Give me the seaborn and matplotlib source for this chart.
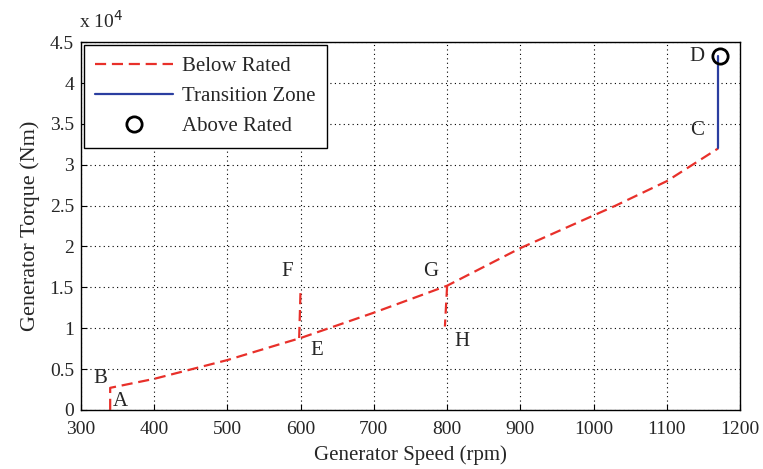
import numpy as np
import pandas as pd
import seaborn as sns
import matplotlib
matplotlib.use("Agg")
import matplotlib.pyplot as plt
from matplotlib.lines import Line2D

sns.set_style("white")
plt.rcParams['font.family'] = ['Liberation Serif', 'DejaVu Serif']

# Data (torque in units of 1e4 Nm)
below_speed = [340, 340, 400, 500, 570, 600, 700, 800, 900, 1000, 1030, 1100, 1170]
below_torque = [0.0, 0.27, 0.38, 0.61, 0.80, 0.88, 1.19, 1.52, 1.98, 2.38, 2.50, 2.80, 3.20]
spur_ef_speed = [598, 600]
spur_ef_torque = [0.88, 1.50]
spur_gh_speed = [800, 797]
spur_gh_torque = [1.52, 1.02]
trans_speed = [1170, 1170]
trans_torque = [3.20, 4.33]
above_speed = [1172]
above_torque = [4.33]

labels = ["A", "B", "E", "F", "G", "H", "C", "D"]
label_x = [354, 326, 622, 582, 778, 820, 1141, 1141]
label_y = [0.10, 0.39, 0.73, 1.69, 1.69, 0.84, 3.42, 4.33]

red = "#e8302a"
blue = "#2b3ea0"

fig = plt.figure(figsize=(7.63, 4.69), dpi=100)
ax = fig.add_axes([0.106, 0.126, 0.864, 0.784])

df_b = pd.DataFrame({"s": below_speed, "t": below_torque})
sns.lineplot(data=df_b, x="s", y="t", sort=False, ax=ax, color=red, lw=1.6,
             estimator=None)
ax.lines[-1].set_dashes((5, 2.6))
for xs, ys in [(spur_ef_speed, spur_ef_torque), (spur_gh_speed, spur_gh_torque)]:
    sns.lineplot(x=xs, y=ys, sort=False, ax=ax, color=red, lw=1.6, estimator=None)
    ax.lines[-1].set_dashes((5, 2.6))
sns.lineplot(x=trans_speed, y=trans_torque, sort=False, ax=ax, color=blue, lw=1.6,
             estimator=None)
ax.plot(above_speed, above_torque, 'o', mfc='none', mec='black', ms=11, mew=2)

for lab, lx, ly in zip(labels, label_x, label_y):
    ax.text(lx, ly, lab, fontsize=15, ha='center', va='center')

ax.set_xlim(300, 1200)
ax.set_ylim(0, 4.5)
ax.set_xticks(np.arange(300, 1201, 100))
ax.set_yticks(np.arange(0, 4.51, 0.5))
ax.set_yticklabels(["%g" % v for v in np.arange(0, 4.51, 0.5)])
ax.tick_params(labelsize=14, direction='in', length=4, color='black', left=True, bottom=True)
ax.tick_params(axis='x', pad=8)
ax.tick_params(axis='y', pad=5)
ax.grid(True, color='black', linestyle=(0, (1, 3)), lw=0.8)
for sp in ax.spines.values():
    sp.set_color('black')
    sp.set_linewidth(1.0)
ax.set_xlabel("Generator Speed (rpm)", fontsize=15, labelpad=5)
ax.set_ylabel("Generator Torque (Nm)", fontsize=16, labelpad=7)
fig.text(0.104, 0.932, r"x 10$^{4}$", fontsize=14, ha='left', va='bottom')

handles = [Line2D([0], [0], color=red, lw=1.6, dashes=(5, 2.6)),
           Line2D([0], [0], color=blue, lw=1.6),
           Line2D([0], [0], marker='o', ls='none', mfc='none', mec='black', ms=11, mew=2)]
leg = ax.legend(handles, ["Below Rated", "Transition Zone", "Above Rated"],
                loc='upper left', fontsize=15, frameon=True, fancybox=False,
                edgecolor='black', framealpha=1, borderpad=0.55, labelspacing=0.5,
                handlelength=3.7, handletextpad=0.45, borderaxespad=0.15)
leg.get_frame().set_linewidth(1.0)

fig.savefig("out.png", dpi=100)
